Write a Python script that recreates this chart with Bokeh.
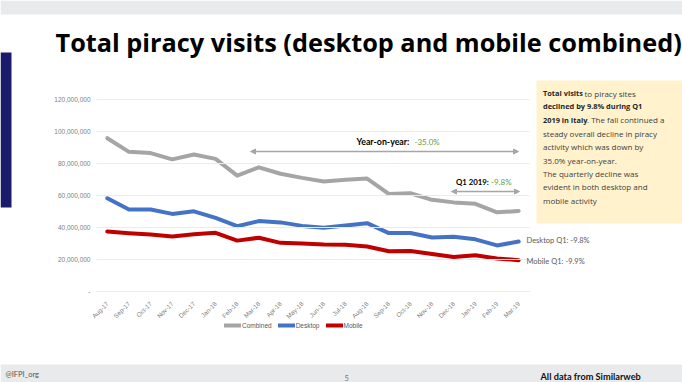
from bokeh.plotting import figure
from bokeh.models import (Range1d, Label, BoxAnnotation, Arrow, FixedTicker,
                          NormalHead, Legend, LegendItem, NumeralTickFormatter)
from bokeh.embed import file_html
from bokeh.resources import INLINE

# ---------------- data ----------------
months = ["Aug-17", "Sep-17", "Oct-17", "Nov-17", "Dec-17", "Jan-18", "Feb-18",
          "Mar-18", "Apr-18", "May-18", "Jun-18", "Jul-18", "Aug-18", "Sep-18",
          "Oct-18", "Nov-18", "Dec-18", "Jan-19", "Feb-19", "Mar-19"]
combined_m = [95.8, 87.3, 86.5, 82.6, 85.6, 82.9, 72.4, 77.6, 73.6, 71.0,
              68.8, 69.8, 70.6, 61.0, 61.4, 57.3, 55.7, 54.8, 49.5, 50.3]
desktop_m = [58.3, 51.2, 51.2, 48.5, 50.1, 46.0, 40.8, 44.0, 43.2, 41.0,
             39.9, 41.2, 42.7, 36.5, 36.6, 33.8, 34.2, 32.6, 28.8, 31.2]
mobile_m = [37.5, 36.4, 35.6, 34.4, 35.8, 36.7, 31.8, 33.6, 30.4, 30.0,
            29.4, 29.2, 28.1, 25.2, 25.3, 23.5, 21.6, 22.6, 20.6, 19.6]
series_names = ["Combined", "Desktop", "Mobile"]
y_ticks = [0, 20000000, 40000000, 60000000, 80000000, 100000000, 120000000]

title_text = "Total piracy visits (desktop and mobile combined)"
yoy_label, yoy_value = "Year-on-year:", "-35.0%"
q1_label, q1_value = "Q1 2019:", "-9.8%"
desktop_note = "Desktop Q1: -9.8%"
mobile_note = "Mobile Q1: -9.9%"

xi = list(range(len(months)))
combined = [v * 1e6 for v in combined_m]
desktop = [v * 1e6 for v in desktop_m]
mobile = [v * 1e6 for v in mobile_m]

# ---------------- layout (page pixels) ----------------
W, H = 682, 382
PL, PR, PT, PB = 96, 529, 99, 291          # chart area
n = len(months)
bw = (PR - PL) / n                          # px per category
ymax = 120e6
vpp = ymax / (PB - PT)                      # value per pixel

p = figure(width=W, height=H,
           x_range=Range1d(-0.5 - PL / bw, n - 0.5 + (W - PR) / bw),
           y_range=Range1d(-(H - PB) * vpp, ymax + PT * vpp),
           output_backend="svg", toolbar_location=None,
           min_border=0)
p.extra_x_ranges = {"px": Range1d(0, W)}
p.extra_y_ranges = {"py": Range1d(H, 0)}

p.outline_line_color = None
p.background_fill_color = "white"
p.border_fill_color = "white"
p.xgrid.grid_line_color = None
p.ygrid.grid_line_color = None

yax = p.yaxis[0]
yax.fixed_location = -0.5
yax.bounds = (0, ymax)
yax.ticker = FixedTicker(ticks=y_ticks)
yax.formatter = NumeralTickFormatter(format="0,0")
yax.major_label_overrides = {0: "-"}
yax.axis_line_color = None
yax.major_tick_line_color = "#ebebeb"
yax.major_tick_in = int(PR - PL)
yax.major_tick_out = 0
yax.minor_tick_line_color = None
yax.major_label_text_font = "Liberation Sans"
yax.major_label_text_font_size = "6.5px"
yax.major_label_text_color = "#808080"
yax.major_label_standoff = 6

xax = p.xaxis[0]
xax.fixed_location = 0
xax.bounds = (-0.5, n - 0.5)
xax.ticker = FixedTicker(ticks=xi)
xax.major_label_overrides = {i: m for i, m in zip(xi, months)}
xax.axis_line_color = "#d9d9d9"
xax.major_tick_line_color = None
xax.minor_tick_line_color = None
xax.major_label_orientation = 0.785
xax.major_label_text_font = "Liberation Sans"
xax.major_label_text_font_size = "6.3px"
xax.major_label_text_color = "#808080"
xax.major_label_standoff = 5

# ---------------- slide decorations ----------------
def box(left, right, top, bottom, color):
    b = BoxAnnotation(left=left, right=right, top=top, bottom=bottom,
                      x_range_name="px", y_range_name="py",
                      fill_color=color, fill_alpha=1, line_color=None,
                      level="underlay")
    p.add_layout(b)

box(0, W, 0, 14, "#e9eaec")
box(0, W, 364, H, "#e9eaec")
box(0, 11, 52, 207, "#1b1b6b")
box(536, W, 80, 223, "#fff2cc")

def lab(x, y, text, size, color, bold=False, font="Lato", align="left"):
    l = Label(x=x, y=y, x_range_name="px", y_range_name="py", text=text,
              text_font=font, text_font_size=f"{size}px", text_color=color,
              text_font_style="bold" if bold else "normal",
              text_align=align, text_baseline="middle")
    p.add_layout(l)

lab(55, 41, title_text, 25.3, "#000000", bold=True, font="Open Sans")

# text box
TBF = "Open Sans"
tb_y0, tb_dy = 92.5, 13.4
tx = 542.5
lab(tx, tb_y0, "Total visits", 7.4, "#262626", bold=True, font=TBF)
lab(584, tb_y0, "to piracy sites", 8, "#404040", font=TBF)
lab(tx, tb_y0 + tb_dy, "declined by 9.8% during Q1", 7.4, "#262626", bold=True, font=TBF)
lab(tx, tb_y0 + 2 * tb_dy, "2019 in Italy", 7.4, "#262626", bold=True, font=TBF)
lab(586.5, tb_y0 + 2 * tb_dy, ". The fall continued a", 8, "#404040", font=TBF)
rest = ["steady overall decline in piracy", "activity which was down by",
        "35.0% year-on-year.", "The quarterly decline was",
        "evident in both desktop and", "mobile activity"]
for i, t in enumerate(rest):
    lab(tx, tb_y0 + (3 + i) * tb_dy, t, 8, "#404040", font=TBF)

# in-chart annotations
lab(356, 141, yoy_label, 8.8, "#000000", bold=True)
lab(414, 141, yoy_value, 8, "#6a9b3a")
lab(455.5, 181.5, q1_label, 7.8, "#000000", bold=True)
lab(490.5, 181.5, q1_value, 8, "#6a9b3a")

for (xs, xe, yy) in [(250, 518, 151), (451, 519, 191)]:
    a = Arrow(start=NormalHead(size=5, fill_color="#a6a6a6", line_color="#a6a6a6"),
              end=NormalHead(size=5, fill_color="#a6a6a6", line_color="#a6a6a6"),
              x_start=xs, y_start=yy, x_end=xe, y_end=yy,
              x_range_name="px", y_range_name="py",
              line_color="#a6a6a6", line_width=1.5)
    p.add_layout(a)

lab(526, 240, desktop_note, 7.5, "#595959")
lab(526, 261, mobile_note, 7.5, "#595959")

# footer
lab(5, 374, "@IFPI_org", 7.5, "#555555")
lab(344, 377, "5", 7.5, "#777777")
lab(540, 376, "All data from Similarweb", 9.2, "#111111", bold=True)

# ---------------- series ----------------
colors = ["#a5a5a5", "#4472c4", "#c00000"]
rs = []
for ys, c in zip([combined, desktop, mobile], colors):
    r = p.line(x=xi, y=ys, line_color=c, line_width=4,
               line_join="round", line_cap="round")
    rs.append(r)

legend = Legend(items=[LegendItem(label=nm, renderers=[r]) for nm, r in zip(series_names, rs)],
                location=(224, H - 330), orientation="horizontal",
                glyph_width=17, glyph_height=10, label_height=10,
                label_text_font="Liberation Sans", label_text_font_size="6.5px",
                label_text_color="#595959", padding=0, margin=0, spacing=6,
                label_standoff=1, border_line_color=None, background_fill_alpha=0)
p.add_layout(legend)

open("out.html", "w").write(file_html(p, INLINE))
